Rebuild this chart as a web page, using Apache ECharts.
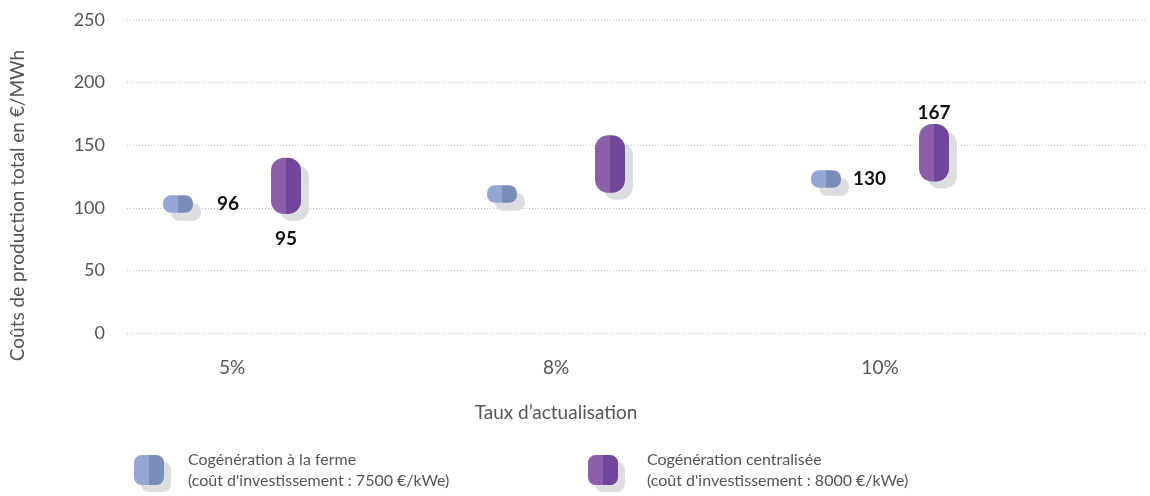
<!DOCTYPE html>
<html>
<head>
<meta charset="utf-8">
<script src="https://cdn.jsdelivr.net/npm/echarts@6/dist/echarts.min.js"></script>
<style>
  html, body { margin: 0; padding: 0; background: #ffffff; }
  #chart { width: 1150px; height: 496px; }
</style>
</head>
<body>
<div id="chart"></div>
<script>
// Discount rates on the category axis
const categories = ['5%', '8%', '10%'];
const yTicks = [0, 50, 100, 150, 200, 250];

// Total production cost ranges (€/MWh): low and high end of each bar
const farmLow = [96, 104, 116];
const farmHigh = [110, 118, 130];
const centralLow = [95, 112, 121];
const centralHigh = [140, 158, 167];

const seriesNames = ['Cogénération à la ferme', 'Cogénération centralisée'];
const seriesNotes = [
  "(coût d'investissement : 7500 €/kWe)",
  "(coût d'investissement : 8000 €/kWe)"
];

const FONT = 'Lato, "Noto Sans", sans-serif';
const SHADOW = '#dcdde0';
const GREY_TEXT = '#555';

function twoTone(light, dark) {
  return {
    type: 'linear', x: 0, y: 0, x2: 1, y2: 0,
    colorStops: [
      { offset: 0, color: light }, { offset: 0.5, color: light },
      { offset: 0.5, color: dark }, { offset: 1, color: dark }
    ]
  };
}
const farmColor = twoTone('#95a5d6', '#7a8cb7');
const centralColor = twoTone('#8c5fa9', '#71459a');

// Which end of a bar is printed, and where
const labelStyle = { color: '#111', fontSize: 19, fontWeight: 'bold', fontFamily: FONT };
const farmLabels = { 0: { end: 'low', position: 'right', distance: 24 },
                     2: { end: 'high', position: 'right', distance: 12 } };
const centralLabels = { 0: { end: 'low', position: 'bottom', distance: 15 },
                        2: { end: 'high', position: 'top', distance: 2 } };

function rangeData(low, high, labels) {
  return low.map((lo, i) => {
    const item = { value: high[i] - lo };
    const l = labels[i];
    if (l) {
      item.label = Object.assign({
        show: true,
        position: l.position,
        distance: l.distance,
        formatter: String(l.end === 'low' ? lo : high[i])
      }, labelStyle);
    }
    return item;
  });
}

const legendCommon = {
  top: 444,
  orient: 'horizontal',
  icon: 'roundRect',
  itemWidth: 30,
  itemHeight: 30,
  itemStyle: { shadowColor: SHADOW, shadowBlur: 0, shadowOffsetX: 7, shadowOffsetY: 7 },
  formatter: name => name + '\n' + seriesNotes[seriesNames.indexOf(name)],
  selectedMode: false
};
function legendText(gap) {
  return { color: GREY_TEXT, fontSize: 16, lineHeight: 21, fontFamily: FONT, padding: [0, 0, 0, gap] };
}

const chart = echarts.init(document.getElementById('chart'), null, { renderer: 'canvas' });
chart.setOption({
  animation: false,
  textStyle: { fontFamily: FONT },
  grid: [
    { left: 120, right: 3, top: 20, bottom: 163 },
    { left: 70, right: 108, top: 20, bottom: 163 }
  ],
  legend: [
    Object.assign({}, legendCommon, { left: 129, data: [seriesNames[0]], textStyle: legendText(19) }),
    Object.assign({}, legendCommon, { left: 583, data: [seriesNames[1]], textStyle: legendText(24) })
  ],
  xAxis: [
    { gridIndex: 0, type: 'value', show: false, min: 0, max: 1 },
    {
      gridIndex: 1,
      type: 'category',
      data: categories,
      axisLine: { show: false },
      axisTick: { show: false },
      axisLabel: { color: GREY_TEXT, fontSize: 19, margin: 25, fontFamily: FONT },
      name: "Taux d’actualisation",
      nameLocation: 'middle',
      nameGap: 70,
      nameTextStyle: { color: GREY_TEXT, fontSize: 19, fontFamily: FONT }
    }
  ],
  yAxis: [
    {
      gridIndex: 0,
      type: 'value',
      min: yTicks[0],
      max: yTicks[yTicks.length - 1],
      interval: yTicks[1] - yTicks[0],
      axisLine: { show: false },
      axisTick: { show: false },
      axisLabel: { color: GREY_TEXT, fontSize: 18, margin: 22, fontFamily: FONT },
      splitLine: { lineStyle: { color: '#b8b8b8', type: [1, 2], width: 1 } },
      name: 'Coûts de production total en €/MWh',
      nameLocation: 'middle',
      nameGap: 100,
      nameTextStyle: { color: GREY_TEXT, fontSize: 19, fontFamily: FONT, padding: [0, 58, 0, 0] }
    },
    {
      gridIndex: 1,
      type: 'value',
      min: yTicks[0],
      max: yTicks[yTicks.length - 1],
      show: false
    }
  ],
  series: [
    {
      name: 'farm-base', type: 'bar', xAxisIndex: 1, yAxisIndex: 1, stack: 'farm',
      barWidth: 30, barGap: '260%', silent: true,
      itemStyle: { color: 'rgba(0,0,0,0)' },
      data: farmLow
    },
    {
      name: seriesNames[0], type: 'bar', xAxisIndex: 1, yAxisIndex: 1, stack: 'farm',
      barWidth: 30, barGap: '260%',
      itemStyle: { color: farmColor, borderRadius: 8,
        shadowColor: SHADOW, shadowBlur: 0, shadowOffsetX: 8, shadowOffsetY: 8 },
      data: rangeData(farmLow, farmHigh, farmLabels)
    },
    {
      name: 'central-base', type: 'bar', xAxisIndex: 1, yAxisIndex: 1, stack: 'central',
      barWidth: 30, barGap: '260%', silent: true,
      itemStyle: { color: 'rgba(0,0,0,0)' },
      data: centralLow
    },
    {
      name: seriesNames[1], type: 'bar', xAxisIndex: 1, yAxisIndex: 1, stack: 'central',
      barWidth: 30, barGap: '260%',
      itemStyle: { color: centralColor, borderRadius: 13,
        shadowColor: SHADOW, shadowBlur: 0, shadowOffsetX: 8, shadowOffsetY: 7 },
      data: rangeData(centralLow, centralHigh, centralLabels)
    }
  ]
});
</script>
</body>
</html>
